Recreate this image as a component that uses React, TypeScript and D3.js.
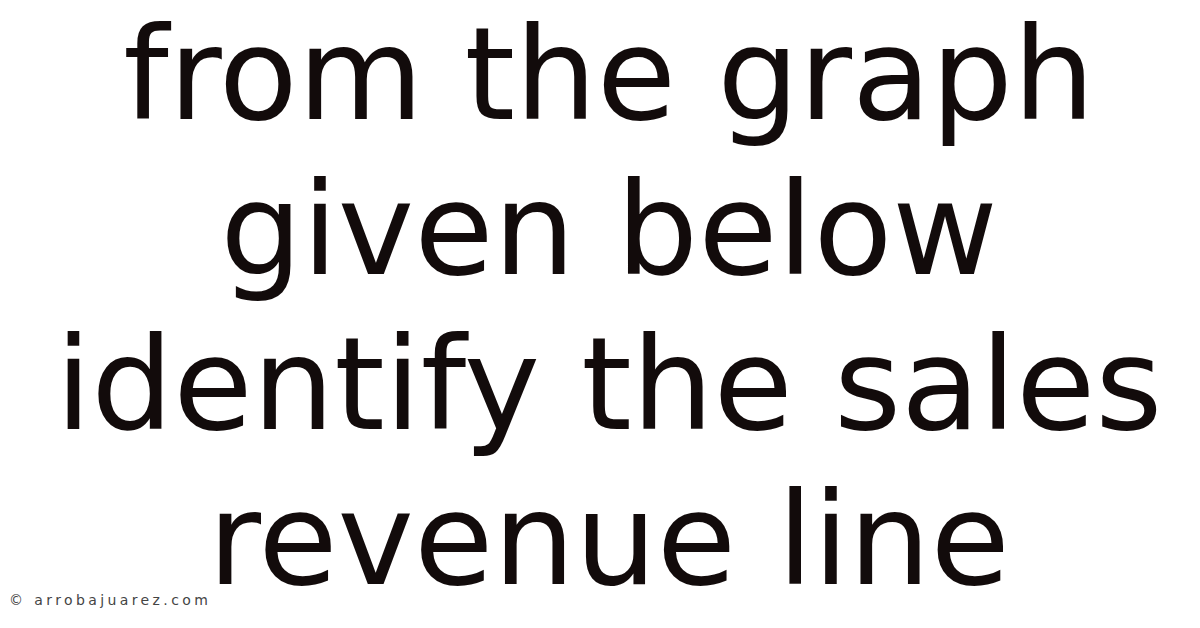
import React, { useEffect, useRef } from 'react';
import * as d3 from 'd3';

// Text lines of the title card
const titleLines = ['from the graph', 'given below', 'identify the sales', 'revenue line'];
const watermark = '© arrobajuarez.com';

const W = 1200;
const H = 628;

export default function App() {
  const svgRef = useRef<SVGSVGElement>(null);

  useEffect(() => {
    if (!svgRef.current) return;
    const svg = d3.select(svgRef.current);
    svg.selectAll('*').remove();

    svg.append('rect').attr('width', W).attr('height', H).attr('fill', '#ffffff');

    // baseline positions for each line
    const y = d3.scalePoint<string>()
      .domain(titleLines)
      .range([119, 584]);

    svg.selectAll('.line')
      .data(titleLines)
      .enter()
      .append('text')
      .attr('class', 'line')
      .attr('x', W / 2 + 9)
      .attr('y', (d) => y(d) || 0)
      .attr('text-anchor', 'middle')
      .attr('font-family', '"DejaVu Sans", sans-serif')
      .attr('font-size', 129)
      .attr('fill', '#120b0b')
      .text((d) => d);

    svg.append('text')
      .attr('x', 9)
      .attr('y', 605)
      .attr('font-family', '"DejaVu Sans", sans-serif')
      .attr('font-size', 14)
      .attr('letter-spacing', 3.4)
      .attr('fill', '#444444')
      .text(watermark);
  }, []);

  return (
    <svg
      ref={svgRef}
      width={W}
      height={H}
      style={{ position: 'absolute', left: 0, top: 0, display: 'block' }}
    />
  );
}
